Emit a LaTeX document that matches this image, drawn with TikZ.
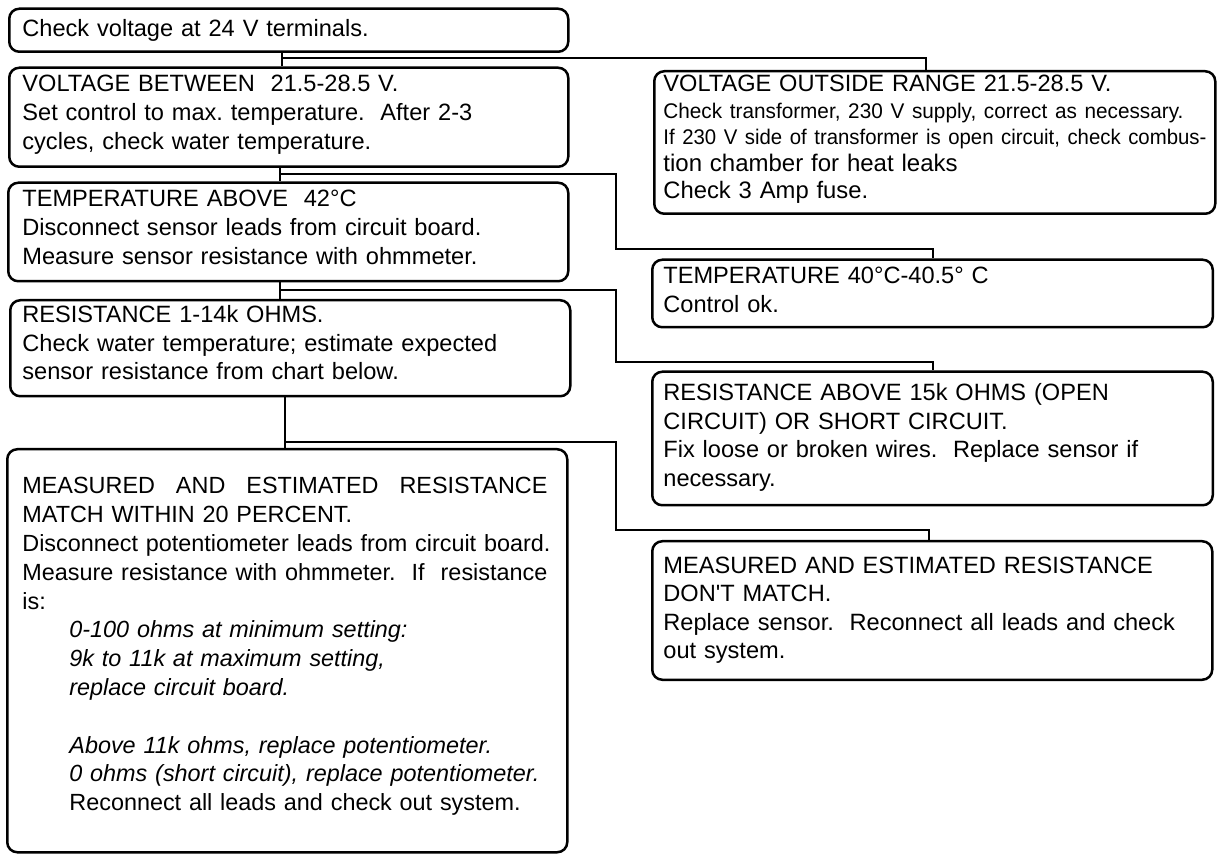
\documentclass[tikz,border=0pt]{standalone}
\usepackage{fontspec}
\usepackage{graphicx}
\setmainfont{Liberation Sans}
\begin{document}
\frenchspacing
\begin{tikzpicture}[x=0.5pt,y=-0.5pt,
  box/.style={draw, line width=1.25pt, rounded corners=5pt, anchor=north west, inner sep=0pt},
  link/.style={line width=1pt},
  txt/.style={anchor=base west, inner sep=0pt, align=left, text width=300pt, font=\fontsize{11.8}{14.4}\selectfont},
  txtsmall/.style={anchor=base west, inner sep=0pt, align=left, text width=300pt, font=\fontsize{11.8}{13.3}\selectfont}]
\useasboundingbox (0,0) rectangle (1219,854);

% boxes
\node[box, minimum width=279.5pt, minimum height=21.5pt] (A) at (8,7.5) {};
\node[box, minimum width=279.5pt, minimum height=49.5pt] (B) at (8,66.5) {};
\node[box, minimum width=280pt, minimum height=49.25pt] (C) at (7,181.5) {};
\node[box, minimum width=280pt, minimum height=48pt] (F) at (9,299) {};
\node[box, minimum width=280pt, minimum height=201.5pt] (H) at (6,448) {};
\node[box, minimum width=280.5pt, minimum height=71.25pt] (D) at (653,70) {};
\node[box, minimum width=280.25pt, minimum height=33.75pt] (E) at (651,258.5) {};
\node[box, minimum width=280.25pt, minimum height=66.75pt] (G) at (651,370.5) {};
\node[box, minimum width=280pt, minimum height=69.25pt] (I) at (651,540) {};

% texts
\node[txt] (tA) at (22,36.7) {Check voltage at 24 V terminals.};
\node[txt] (tB) at (22,91.7) {VOLTAGE BETWEEN\ \ 21.5-28.5 V.\\Set control to max. temperature.\ \ After 2-3\\cycles, check water temperature.};
\node[txt] (tC) at (22,206.7) {TEMPERATURE ABOVE\ \ 42°C\\Disconnect sensor leads from circuit board.\\Measure sensor resistance with ohmmeter.};
\node[txt] (tF) at (22,322.3) {RESISTANCE 1-14k OHMS.\\Check water temperature; estimate expected\\sensor resistance from chart below.};
\node[txt, font=\fontsize{11.7}{14.4}\selectfont] (tH) at (22,494) {\leavevmode\hbox to 262.5pt{MEASURED\hfill AND\hfill ESTIMATED\hfill RESISTANCE}\\
MATCH WITHIN 20 PERCENT.\\
\leavevmode\hbox to 262.5pt{Disconnect potentiometer leads from circuit board.}\\
\leavevmode\hbox to 262.5pt{Measure resistance with ohmmeter.\hfill If\hfill resistance}\\
is:\\
\hspace*{23.5pt}\textit{0-100 ohms at minimum setting:}\\
\hspace*{23.5pt}\textit{9k to 11k at maximum setting,}\\
\hspace*{23.5pt}\textit{replace circuit board.}\\[14.4pt]
\hspace*{23.5pt}\textit{Above 11k ohms, replace potentiometer.}\\
\hspace*{23.5pt}\textit{0 ohms (short circuit), replace potentiometer.}\\
\hspace*{23.5pt}Reconnect all leads and check out system.};
\node[txtsmall] (tD) at (663,91.7) {VOLTAGE OUTSIDE RANGE 21.5-28.5 V.\\
{\fontsize{10.6}{13.3}\selectfont\resizebox{260pt}{\height}{Check transformer, 230 V supply, correct as necessary.}}\\
{\fontsize{10.6}{13.3}\selectfont\resizebox{271.5pt}{\height}{If 230 V side of transformer is open circuit, check combus-}}\\
{\fontsize{12}{13.3}\selectfont tion chamber for heat leaks}\\
{\fontsize{11.9}{13.3}\selectfont Check 3 Amp fuse.}};
\node[txt, font=\fontsize{11.8}{14.7}\selectfont] (tE) at (663,283.3) {TEMPERATURE 40°C-40.5° C\\Control ok.};
\node[txt, font=\fontsize{11.8}{14.25}\selectfont] (tG) at (663,401) {RESISTANCE ABOVE 15k OHMS (OPEN\\CIRCUIT) OR SHORT CIRCUIT.\\Fix loose or broken wires.\ \ Replace sensor if\\necessary.};
\node[txt, font=\fontsize{11.8}{14.25}\selectfont] (tI) at (663,573.3) {MEASURED AND ESTIMATED RESISTANCE\\DON\textquotesingle T MATCH.\\Replace sensor.\ \ Reconnect all leads and check\\out system.};

% connectors
\coordinate (j1) at (282,58);
\coordinate (j2) at (280,174);
\coordinate (k2) at (616,249.3);
\coordinate (j3) at (280,290);
\coordinate (k3) at (616,361.7);
\coordinate (j4) at (284.6,441.7);
\coordinate (k4) at (616,530);

\draw[link] (A.south -| j1) -- (B.north -| j1);
\draw[link] (j1) -| ([xshift=-4.25pt]D.north);
\draw[link] (B.south -| j2) -- (C.north -| j2);
\draw[link] (j2) -| (k2) -| (E.north);
\draw[link] (C.south -| j3) -- (F.north -| j3);
\draw[link] (j3) -| (k3) -| (G.north);
\draw[link] (F.south -| j4) -- (H.north -| j4);
\draw[link] (j4) -| (k4) -| ([xshift=-1.5pt]I.north);
\end{tikzpicture}
\end{document}
